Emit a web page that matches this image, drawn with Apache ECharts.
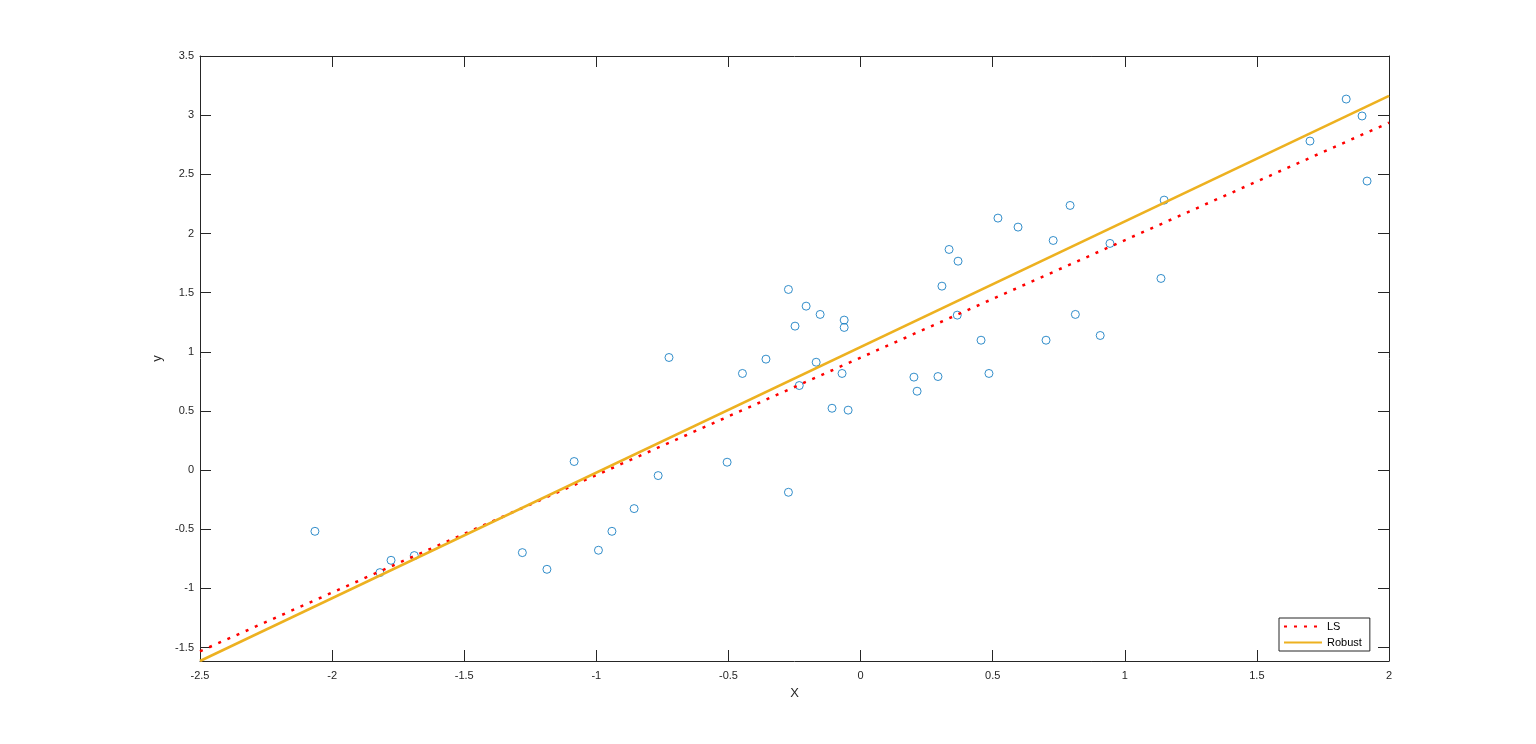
<!DOCTYPE html>
<html>
<head>
<meta charset="utf-8">
<script src="https://cdn.jsdelivr.net/npm/echarts@6/dist/echarts.min.js"></script>
<style>
html,body{margin:0;padding:0;background:#fff;}
#chart{width:1536px;height:744px;}
</style>
</head>
<body>
<div id="chart"></div>
<script>
// Scatter data (X, y)
const xData = [-2.065,-1.819,-1.777,-1.689,-1.280,-1.187,-1.084,-0.992,-0.941,-0.857,-0.766,-0.725,
  -0.505,-0.447,-0.358,-0.273,-0.273,-0.248,-0.206,-0.232,-0.168,-0.153,-0.108,-0.062,-0.062,-0.070,-0.047,
  0.202,0.214,0.293,0.308,0.366,0.456,0.486,0.335,0.369,0.520,0.596,0.702,0.729,0.793,0.813,0.907,0.944,
  1.137,1.149,1.701,1.838,1.898,1.917];
const yData = [-0.517,-0.866,-0.762,-0.722,-0.697,-0.838,0.073,-0.677,-0.517,-0.325,-0.046,0.952,
  0.067,0.817,0.938,1.527,-0.187,1.217,1.386,0.715,0.912,1.316,0.523,1.268,1.206,0.817,0.507,
  0.786,0.667,0.791,1.555,1.310,1.098,0.817,1.865,1.766,2.130,2.054,1.098,1.941,2.237,1.316,1.138,1.916,
  1.620,2.282,2.781,3.136,2.993,2.443];
// Fit lines (endpoints)
const lineX = [-2.5, 2];
const lsY = [-1.531, 2.936];
const robustY = [-1.613, 3.164];
const seriesNames = ['LS', 'Robust'];

const scatterPts = xData.map((x, i) => [x, yData[i]]);
const lsPts = lineX.map((x, i) => [x, lsY[i]]);
const robustPts = lineX.map((x, i) => [x, robustY[i]]);

const FONT = '"Liberation Sans", Arial, Helvetica, sans-serif';
const AX = '#262626';

const chart = echarts.init(document.getElementById('chart'), null, {renderer: 'canvas'});

function fmt(v) {
  const k = v * 2;
  if (Math.abs(k - Math.round(k)) > 1e-6) return '';
  return String(Math.round(v * 100) / 100);
}

const xCommon = {
  type: 'value', min: -2.5, max: 2, interval: 0.5,
  axisLine: {show: true, onZero: false, lineStyle: {color: AX, width: 1}},
  axisTick: {show: true, inside: true, length: 11, lineStyle: {color: AX, width: 1}},
  splitLine: {show: false}
};
const yCommon = {
  type: 'value', min: -1.613, max: 3.5, splitNumber: 10,
  axisLine: {show: true, onZero: false, lineStyle: {color: AX, width: 1}},
  axisTick: {show: true, inside: true, length: 11, lineStyle: {color: AX, width: 1}},
  splitLine: {show: false}
};

chart.setOption({
  animation: false,
  backgroundColor: '#fff',
  textStyle: {fontFamily: FONT},
  grid: {left: 200, right: 147, top: 56, bottom: 83, containLabel: false},
  legend: {
    data: seriesNames,
    orient: 'vertical',
    left: 1279, top: 618,
    padding: [3, 8, 3, 4],
    itemWidth: 38, itemHeight: 10, itemGap: 5,
    backgroundColor: '#fff',
    borderColor: AX, borderWidth: 1, borderRadius: 0,
    itemStyle: {opacity: 0, borderWidth: 0},
    textStyle: {fontFamily: FONT, fontSize: 11, color: '#000'}
  },
  xAxis: [
    Object.assign({}, xCommon, {
      position: 'bottom',
      name: 'X', nameLocation: 'middle', nameGap: 26,
      nameTextStyle: {fontFamily: FONT, fontSize: 13, color: AX},
      axisLabel: {show: true, margin: 9, fontSize: 11, color: AX, fontFamily: FONT, formatter: fmt}
    }),
    Object.assign({}, xCommon, {position: 'top', axisLabel: {show: false}})
  ],
  yAxis: [
    Object.assign({}, yCommon, {
      position: 'left',
      name: 'y', nameLocation: 'middle', nameGap: 27, nameRotate: 90,
      nameTextStyle: {fontFamily: FONT, fontSize: 13, color: AX},
      axisLabel: {show: true, margin: 6, fontSize: 11, color: AX, fontFamily: FONT, formatter: fmt}
    }),
    Object.assign({}, yCommon, {position: 'right', axisLabel: {show: false}})
  ],
  series: [
    {
      type: 'scatter', name: 'data', xAxisIndex: 0, yAxisIndex: 0,
      data: scatterPts, symbol: 'circle', symbolSize: 8,
      itemStyle: {color: 'rgba(0,0,0,0)', borderColor: '#0072BD', borderWidth: 1},
      emphasis: {disabled: true}
    },
    {
      type: 'line', name: seriesNames[0], xAxisIndex: 0, yAxisIndex: 0,
      data: lsPts, symbol: 'none', showSymbol: false, clip: true,
      lineStyle: {color: '#FF0000', width: 2.5, type: [3, 7]},
      itemStyle: {color: '#FF0000'}
    },
    {
      type: 'line', name: seriesNames[1], xAxisIndex: 0, yAxisIndex: 0,
      data: robustPts, symbol: 'none', showSymbol: false, clip: true,
      lineStyle: {color: '#EDB120', width: 2.5, type: 'solid'},
      itemStyle: {color: '#EDB120'}
    }
  ]
});
</script>
</body>
</html>
